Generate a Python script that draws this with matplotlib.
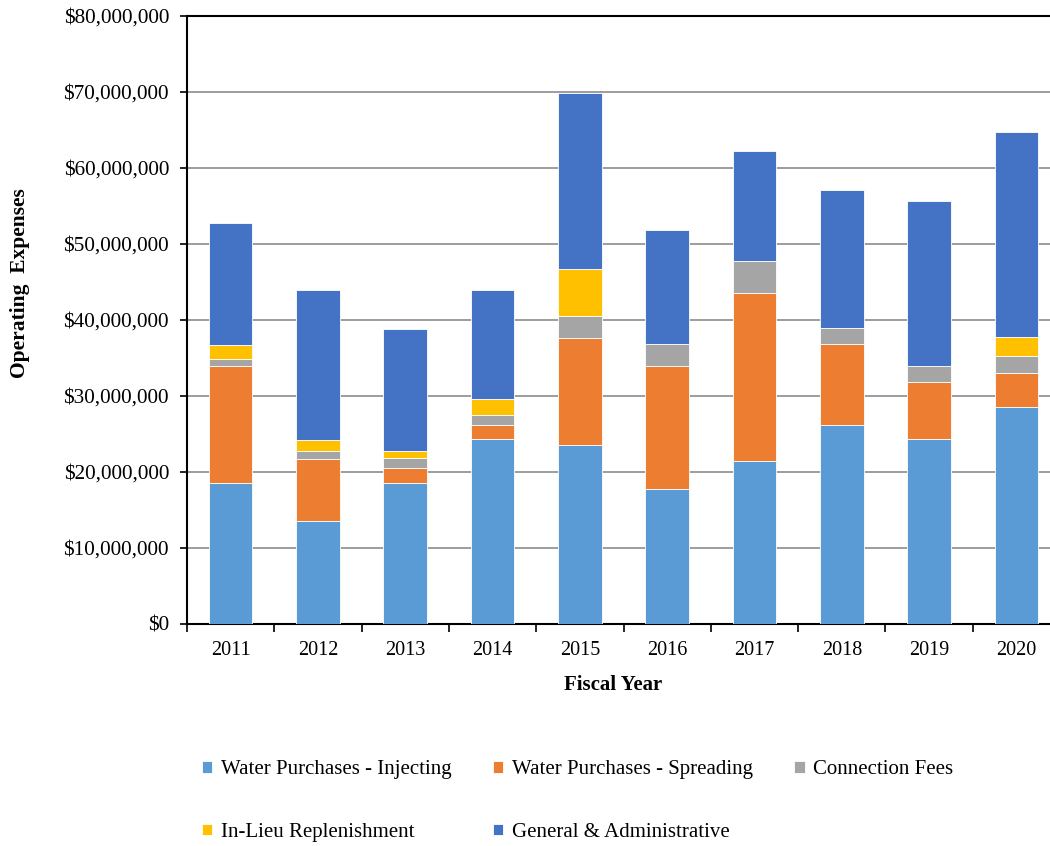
"""Operating expenses by fiscal year, stacked by expense category."""
import numpy as np
import matplotlib
matplotlib.use("Agg")
import matplotlib.pyplot as plt
from matplotlib.ticker import FuncFormatter, FixedLocator

YEARS = ["2011", "2012", "2013", "2014", "2015", "2016", "2017", "2018", "2019", "2020"]

# dollars, per fiscal year
INJECTING = [18.5e6, 13.5e6, 18.6e6, 24.4e6, 23.5e6, 17.8e6, 21.4e6, 26.2e6, 24.4e6, 28.5e6]
SPREADING = [15.5e6, 8.2e6, 1.9e6, 1.8e6, 14.1e6, 16.1e6, 22.1e6, 10.6e6, 7.5e6, 4.5e6]
CONNECTION = [0.9e6, 1.1e6, 1.4e6, 1.3e6, 2.9e6, 3.0e6, 4.3e6, 2.1e6, 2.0e6, 2.2e6]
IN_LIEU = [1.8e6, 1.4e6, 0.9e6, 2.1e6, 6.2e6, 0.0, 0.0, 0.0, 0.0, 2.6e6]
GEN_ADMIN = [16.0e6, 19.8e6, 16.0e6, 14.4e6, 23.2e6, 15.0e6, 14.5e6, 18.2e6, 21.7e6, 26.9e6]

SERIES = [
    ("Water Purchases - Injecting", INJECTING, "#5B9BD5"),
    ("Water Purchases - Spreading", SPREADING, "#ED7D31"),
    ("Connection Fees", CONNECTION, "#A5A5A5"),
    ("In-Lieu Replenishment", IN_LIEU, "#FFC000"),
    ("General & Administrative", GEN_ADMIN, "#4472C4"),
]

W, H = 1050, 846


def main():
    plt.rcParams.update({"font.family": "Liberation Serif", "font.size": 14.5})
    fig = plt.figure(figsize=(W / 100, H / 100), dpi=100)
    # axes run slightly past the right edge of the canvas
    ax = fig.add_axes([187 / W, 1 - 624 / H, (1060 - 187) / W, (624 - 16) / H])

    x = np.arange(len(YEARS))
    bottom = np.zeros(len(YEARS))
    handles = []
    for name, vals, col in SERIES:
        vals = np.asarray(vals)
        b = ax.bar(x, vals, 0.5, bottom=bottom, color=col, edgecolor="white",
                   linewidth=0.6, label=name, zorder=3)
        handles.append(b)
        bottom += vals

    ax.set_xlim(-0.5, len(YEARS) - 0.5)
    ax.set_ylim(0, 80e6)
    ax.set_yticks(np.arange(0, 80e6 + 1, 10e6))
    ax.yaxis.set_major_formatter(FuncFormatter(lambda v, _: f"${v:,.0f}"))
    ax.tick_params(axis="y", length=5, width=1.2, pad=8, direction="out", labelsize=15.3)

    ax.set_xticks(x)
    ax.set_xticklabels(YEARS)
    ax.xaxis.set_minor_locator(FixedLocator(np.arange(-0.5, len(YEARS), 1.0)))
    ax.tick_params(axis="x", which="major", length=0, pad=12)
    ax.tick_params(axis="x", which="minor", length=6, width=1.2, direction="out")

    ax.grid(axis="y", color="#8c8c8c", lw=1.2, zorder=0)
    ax.set_axisbelow(True)
    for s in ("left", "bottom", "top"):
        ax.spines[s].set_linewidth(1.5)
        ax.spines[s].set_color("black")
    ax.spines["right"].set_visible(False)

    fig.text(20 / W, 1 - 283 / H, "Operating  Expenses", rotation=90, fontsize=15.5,
             fontweight="bold", ha="center", va="center")
    fig.text(613 / W, 1 - 685 / H, "Fiscal Year", fontsize=15, fontweight="bold",
             ha="center", va="center")

    # row-major legend order for a 3-column layout
    order = [0, 3, 1, 4, 2]
    fig.legend([handles[i] for i in order], [SERIES[i][0] for i in order],
               ncol=3, loc="center left", bbox_to_anchor=(202 / W, 1 - 801 / H),
               frameon=False, handlelength=0.5, handleheight=0.5, handletextpad=0.4,
               columnspacing=2.0, labelspacing=2.1, borderpad=0, borderaxespad=0,
               fontsize=15)

    fig.savefig("out.png", dpi=100)
    plt.close(fig)


if __name__ == "__main__":
    main()
